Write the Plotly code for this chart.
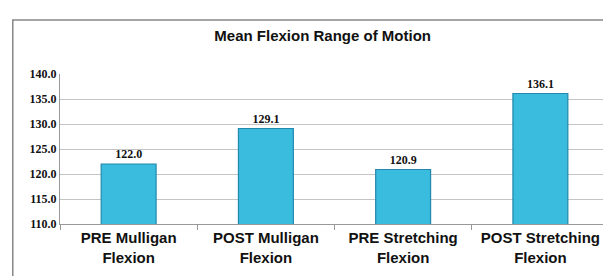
import plotly.graph_objects as go

categories = ["PRE Mulligan<br>Flexion", "POST Mulligan<br>Flexion",
              "PRE Stretching<br>Flexion", "POST Stretching<br>Flexion"]
values = [122.0, 129.1, 120.9, 136.1]
y_ticks = [110, 115, 120, 125, 130, 135, 140]

fig = go.Figure(go.Bar(
    x=categories, y=values,
    marker=dict(color="#3ABCDF", line=dict(color="#2388AB", width=1.2)),
    width=0.4,
    texttemplate="%{y:.1f}", textposition="outside",
    textfont=dict(family="Liberation Serif", size=12, color="#111", weight="bold"),
    cliponaxis=False,
))

fig.update_layout(
    width=611, height=276,
    margin=dict(l=52, r=10, t=66, b=60),
    paper_bgcolor="white", plot_bgcolor="white",
    showlegend=False,
    title=dict(text="Mean Flexion Range of Motion", x=0.515, xanchor="center",
               y=0.9, yanchor="middle",
               font=dict(family="Liberation Sans Narrow, Liberation Sans", size=15,
                         color="#111", weight="bold")),
    xaxis=dict(showline=True, linecolor="#999", tickson="boundaries", ticks="outside",
               ticklen=5, tickcolor="#999",
               tickfont=dict(family="Liberation Sans Narrow, Liberation Sans", size=15,
                             color="#111", weight="bold")),
    yaxis=dict(range=[110, 140], tickvals=y_ticks, tickformat=".1f",
               showgrid=True, gridcolor="#c4c4c4", gridwidth=1,
               showline=True, linecolor="#999", zeroline=False,
               tickfont=dict(family="Liberation Serif", size=12, color="#111", weight="bold"),
               ticksuffix=" "),
    shapes=[dict(type="rect", xref="paper", yref="paper",
                 x0=-0.086, x1=1.017, y0=-0.45, y1=1.36,
                 line=dict(color="#888", width=1.5), fillcolor="rgba(0,0,0,0)")],
)
fig.write_html("out.html")
